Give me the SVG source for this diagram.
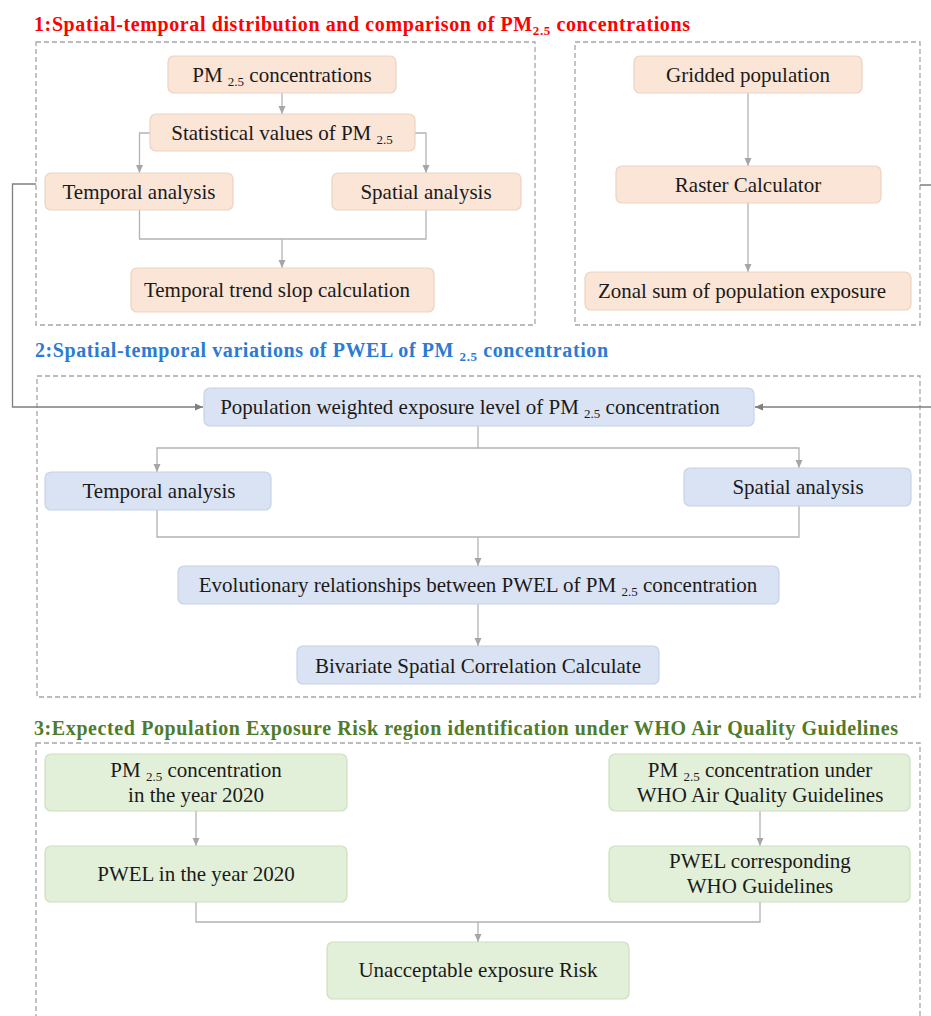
<svg xmlns="http://www.w3.org/2000/svg" width="931" height="1016" viewBox="0 0 931 1016">
<style>
.frame{fill:none;stroke:#a6a6a6;stroke-width:1.3;stroke-dasharray:5 3}
.c{fill:none;stroke:#b3b3b3;stroke-width:1.3}
.fb{fill:none;stroke:#7f7f7f;stroke-width:1.3}
.p{fill:#fbe5d6;stroke:#ecd3c2;stroke-width:1.2}
.b{fill:#dae3f3;stroke:#c6d2e8;stroke-width:1.2}
.g{fill:#e2f0d9;stroke:#cce0bf;stroke-width:1.2}
.n{font-family:"Liberation Serif","Times New Roman",serif;font-size:21px;fill:#1a1a1a;text-anchor:middle}
.s{font-size:13px}
.t{font-family:"Liberation Serif","Times New Roman",serif;font-weight:bold;font-size:20px}
</style>
<defs>
<marker id="a" markerUnits="userSpaceOnUse" markerWidth="10" markerHeight="10" refX="9" refY="5" orient="auto"><path d="M1,1.5 L9,5 L1,8.5 Z" fill="#a6a6a6"/></marker>
<marker id="ad" markerUnits="userSpaceOnUse" markerWidth="10" markerHeight="10" refX="9" refY="5" orient="auto"><path d="M1,1.5 L9,5 L1,8.5 Z" fill="#7f7f7f"/></marker>
</defs>

<g id="titles">
<text class="t" x="34" y="31" fill="#ff0000" textLength="656">1:Spatial-temporal distribution and comparison of PM<tspan class="s" dy="4">2.5</tspan><tspan dy="-4"> concentrations</tspan></text>
<text class="t" x="35" y="357" fill="#2b7bd3" textLength="573">2:Spatial-temporal variations of PWEL of PM <tspan class="s" dy="4">2.5</tspan><tspan dy="-4"> concentration</tspan></text>
<text class="t" x="34" y="735" fill="#4f7b2c" textLength="864">3:Expected Population Exposure Risk region identification under WHO Air Quality Guidelines</text>
</g>

<g id="frames">
<rect class="frame" x="36" y="42" width="499" height="283"/>
<rect class="frame" x="575" y="42" width="345" height="283"/>
<rect class="frame" x="37" y="376" width="883" height="321"/>
<rect class="frame" x="36" y="743" width="884" height="290"/>
</g>

<g id="connectors">
<path class="c" d="M282,93 V114" marker-end="url(#a)"/>
<path class="c" d="M150,133 H139.5 V173" marker-end="url(#a)"/>
<path class="c" d="M415,133 H426 V173" marker-end="url(#a)"/>
<path class="c" d="M139.5,210 V239 H426 V210"/>
<path class="c" d="M282,239 V268" marker-end="url(#a)"/>
<path class="c" d="M748,93 V166" marker-end="url(#a)"/>
<path class="c" d="M748,203 V272" marker-end="url(#a)"/>
<path class="fb" d="M36,184 H12.5 V407 H203" marker-end="url(#ad)"/>
<path class="fb" d="M920,185 H936 V407 H755" marker-end="url(#ad)"/>
<path class="c" d="M478,426 V448 H157 V472" marker-end="url(#a)"/>
<path class="c" d="M478,448 H799 V468" marker-end="url(#a)"/>
<path class="c" d="M157,510 V537 H799 V506"/>
<path class="c" d="M478,537 V566" marker-end="url(#a)"/>
<path class="c" d="M478,604 V646" marker-end="url(#a)"/>
<path class="c" d="M196,811 V846" marker-end="url(#a)"/>
<path class="c" d="M760,811 V846" marker-end="url(#a)"/>
<path class="c" d="M196,902 V922 H760 V902"/>
<path class="c" d="M478,922 V942" marker-end="url(#a)"/>
</g>

<g id="n-pm25">
<rect class="p" x="168" y="56" width="228" height="37" rx="6"/>
<text class="n" x="282" y="82">PM <tspan class="s" dy="4">2.5</tspan><tspan dy="-4"> concentrations</tspan></text>
</g>
<g id="n-stat">
<rect class="p" x="150" y="114" width="265" height="37" rx="6"/>
<text class="n" x="282" y="140">Statistical values of PM <tspan class="s" dy="4">2.5</tspan></text>
</g>
<g id="n-temporal1">
<rect class="p" x="45" y="173" width="188" height="37" rx="6"/>
<text class="n" x="139" y="199">Temporal analysis</text>
</g>
<g id="n-spatial1">
<rect class="p" x="332" y="173" width="189" height="37" rx="6"/>
<text class="n" x="426" y="199">Spatial analysis</text>
</g>
<g id="n-trend">
<rect class="p" x="131" y="268" width="303" height="44" rx="6"/>
<text class="n" x="277" y="297">Temporal trend slop calculation</text>
</g>
<g id="n-gridded">
<rect class="p" x="634" y="56" width="228" height="37" rx="6"/>
<text class="n" x="748" y="82">Gridded population</text>
</g>
<g id="n-raster">
<rect class="p" x="616" y="166" width="265" height="37" rx="6"/>
<text class="n" x="748" y="192">Raster Calculator</text>
</g>
<g id="n-zonal">
<rect class="p" x="585" y="272" width="326" height="38" rx="6"/>
<text class="n" x="742" y="298">Zonal sum of population exposure</text>
</g>

<g id="n-pwel">
<rect class="b" x="204" y="388" width="550" height="38" rx="6"/>
<text class="n" x="470" y="414">Population weighted exposure level of PM <tspan class="s" dy="4">2.5</tspan><tspan dy="-4"> concentration</tspan></text>
</g>
<g id="n-temporal2">
<rect class="b" x="45" y="472" width="226" height="38" rx="6"/>
<text class="n" x="159" y="498">Temporal analysis</text>
</g>
<g id="n-spatial2">
<rect class="b" x="684" y="468" width="227" height="38" rx="6"/>
<text class="n" x="798" y="494">Spatial analysis</text>
</g>
<g id="n-evol">
<rect class="b" x="178" y="566" width="601" height="38" rx="6"/>
<text class="n" x="478" y="592">Evolutionary relationships between PWEL of PM <tspan class="s" dy="4">2.5</tspan><tspan dy="-4"> concentration</tspan></text>
</g>
<g id="n-bivariate">
<rect class="b" x="297" y="646" width="362" height="38" rx="6"/>
<text class="n" x="478" y="673">Bivariate Spatial Correlation Calculate</text>
</g>

<g id="n-pm2020">
<rect class="g" x="45" y="754" width="302" height="57" rx="6"/>
<text class="n" x="196" y="777">PM <tspan class="s" dy="4">2.5</tspan><tspan dy="-4"> concentration</tspan></text>
<text class="n" x="196" y="802">in the year 2020</text>
</g>
<g id="n-pmwho">
<rect class="g" x="609" y="754" width="301" height="57" rx="6"/>
<text class="n" x="760" y="777">PM <tspan class="s" dy="4">2.5</tspan><tspan dy="-4"> concentration under</tspan></text>
<text class="n" x="760" y="802">WHO Air Quality Guidelines</text>
</g>
<g id="n-pwel2020">
<rect class="g" x="45" y="846" width="302" height="56" rx="6"/>
<text class="n" x="196" y="881">PWEL in the year 2020</text>
</g>
<g id="n-pwelwho">
<rect class="g" x="609" y="846" width="301" height="56" rx="6"/>
<text class="n" x="760" y="868">PWEL corresponding</text>
<text class="n" x="760" y="893">WHO Guidelines</text>
</g>
<g id="n-risk">
<rect class="g" x="327" y="942" width="302" height="57" rx="6"/>
<text class="n" x="478" y="977">Unacceptable exposure Risk</text>
</g>
</svg>
